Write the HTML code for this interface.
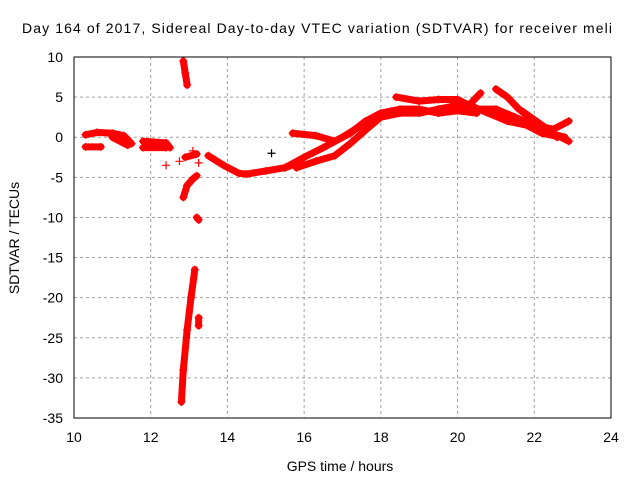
<!DOCTYPE html>
<html><head><meta charset="utf-8"><style>
body{margin:0;background:#fff}
svg{display:block;font-family:"Liberation Sans",sans-serif}
</style></head><body>
<svg id="chart" width="640" height="480" viewBox="0 0 640 480">
<text x="22" y="33" font-size="14" textLength="590" lengthAdjust="spacing" fill="#000">Day 164 of 2017, Sidereal Day-to-day VTEC variation (SDTVAR) for receiver meli</text>
<text transform="translate(19,238) rotate(-90)" font-size="14" text-anchor="middle">SDTVAR / TECUs</text>
<text x="340" y="471" font-size="14" text-anchor="middle">GPS time / hours</text>
<g id="grid"></g><g id="ticks"></g><g id="marks"></g>
<rect x="74" y="57" width="537" height="361" fill="none" stroke="#000" stroke-width="1"/>
</svg>
<script>
const xTicks=[10,12,14,16,18,20,22,24];
const yTicks=[10,5,0,-5,-10,-15,-20,-25,-30,-35];
const trackA_x=[10.3,10.6,11.0,11.3,11.5];
const trackA_y=[0.3,0.6,0.5,0.2,-0.8];
const trackB_x=[10.3,10.7];
const trackB_y=[-1.2,-1.2];
const trackC_x=[11.0,11.4];
const trackC_y=[0,-1];
const trackD_x=[11.8,12.4,12.5];
const trackD_y=[-0.5,-0.7,-1.3];
const trackE_x=[11.8,12.4];
const trackE_y=[-1.3,-1.3];
const trackF_x=[12.85,12.9,12.95];
const trackF_y=[9.5,8,6.5];
const trackG_x=[12.9,13.2];
const trackG_y=[-2.5,-2.1];
const trackH_x=[12.85,12.95,13.1,13.2];
const trackH_y=[-7.5,-6,-5.2,-4.8];
const trackI_x=[12.8,12.85,12.95,13.05,13.15];
const trackI_y=[-33,-29,-24,-20,-16.5];
const trackJ_x=[13.25,13.25];
const trackJ_y=[-22.5,-23.5];
const trackK_x=[13.2,13.25];
const trackK_y=[-10,-10.3];
const trackL_x=[13.5,13.9,14.3,14.5,15,15.5,15.8];
const trackL_y=[-2.3,-3.5,-4.5,-4.6,-4.2,-3.8,-3.3];
const trackM_x=[15.7,16.3,16.8,17.2,17.6,18,18.5,19,19.5,20,20.5];
const trackM_y=[0.5,0.2,-0.5,0.5,2,3,3.5,3.5,3,3.3,3];
const trackN_x=[15.5,16,16.5,17,17.5,18,18.5,19,19.5,20,20.3];
const trackN_y=[-3.8,-2.5,-1.3,0,1.5,2.5,3,3,3.5,4,3.8];
const trackO_x=[15.8,16.3,16.8,17.2,17.7,18];
const trackO_y=[-3.8,-3.0,-2.3,-0.8,1.3,2.5];
const trackP_x=[18.4,19,19.5,20,20.3,20.6];
const trackP_y=[5,4.5,4.7,4.7,4.0,5.5];
const trackQ_x=[20.3,20.8,21.3,21.8,22.2,22.7,22.9];
const trackQ_y=[4,3,2,1.5,0.5,0,-0.5];
const trackR_x=[21,21.3,21.6,22,22.4,22.8];
const trackR_y=[6,5,3.5,2,0.5,0];
const trackS_x=[20.5,21,21.5,22,22.5,22.9];
const trackS_y=[3.5,3.5,2.5,1.5,1,2];
const trackT_x=[21.7,22.2,22.6];
const trackT_y=[3.2,1.5,0];
const singles_x=[12.4,12.75,13.1,13.25];
const singles_y=[-3.5,-3,-1.7,-3.2];
const black_x=[15.15];
const black_y=[-2];
const tracks=[[trackA_x,trackA_y],[trackB_x,trackB_y],[trackC_x,trackC_y],[trackD_x,trackD_y],[trackE_x,trackE_y],[trackF_x,trackF_y],[trackG_x,trackG_y],[trackH_x,trackH_y],[trackI_x,trackI_y],[trackJ_x,trackJ_y],[trackK_x,trackK_y],[trackL_x,trackL_y],[trackM_x,trackM_y],[trackN_x,trackN_y],[trackO_x,trackO_y],[trackP_x,trackP_y],[trackQ_x,trackQ_y],[trackR_x,trackR_y],[trackS_x,trackS_y],[trackT_x,trackT_y]];
const NS="http://www.w3.org/2000/svg";
function sx(v){return 74+(v-10)/14*537;}
function sy(v){return 57+(10-v)/45*361;}
function mk(t,p,a){const e=document.createElementNS(NS,t);for(const k in a)e.setAttribute(k,a[k]);p.appendChild(e);return e;}
const grid=document.getElementById('grid'),ticks=document.getElementById('ticks'),marks=document.getElementById('marks');
xTicks.forEach(v=>{const x=sx(v);
 if(v>10&&v<24){const g=mk('line',grid,{x1:x,x2:x,y1:57,y2:418,stroke:'#a0a0a0','stroke-dasharray':'3,3'});
 
 }
 const t=mk('text',ticks,{x:x,y:442,'font-size':14,'text-anchor':'middle'});t.textContent=v;
 
 });
yTicks.forEach(v=>{const y=sy(v);
 if(v<10&&v>-35){const g=mk('line',grid,{x1:74,x2:611,y1:y,y2:y,stroke:'#a0a0a0','stroke-dasharray':'3,3'});
 
 }
 const t=mk('text',ticks,{x:63,y:y+5,'font-size':14,'text-anchor':'end'});t.textContent=v;
 
 });
function plus(x,y,c,s){const p=mk('path',marks,{d:`M${x-s},${y}h${2*s}M${x},${y-s}v${2*s}`,stroke:c,'stroke-width':1.2,fill:'none'});
 
 }
tracks.forEach(([xs,ys])=>{
 const pts=xs.map((v,i)=>sx(v)+','+sy(ys[i])).join(' ');
 const l=mk('polyline',marks,{points:pts,fill:'none',stroke:'#ff0000','stroke-width':7,'stroke-linejoin':'round','stroke-linecap':'round'});
 
 
 xs.forEach((v,i)=>plus(sx(v),sy(ys[i]),'#ff0000',4));
});
singles_x.forEach((v,i)=>plus(sx(v),sy(singles_y[i]),'#ff0000',4));
black_x.forEach((v,i)=>plus(sx(v),sy(black_y[i]),'#000',4));
</script>
</body></html>
